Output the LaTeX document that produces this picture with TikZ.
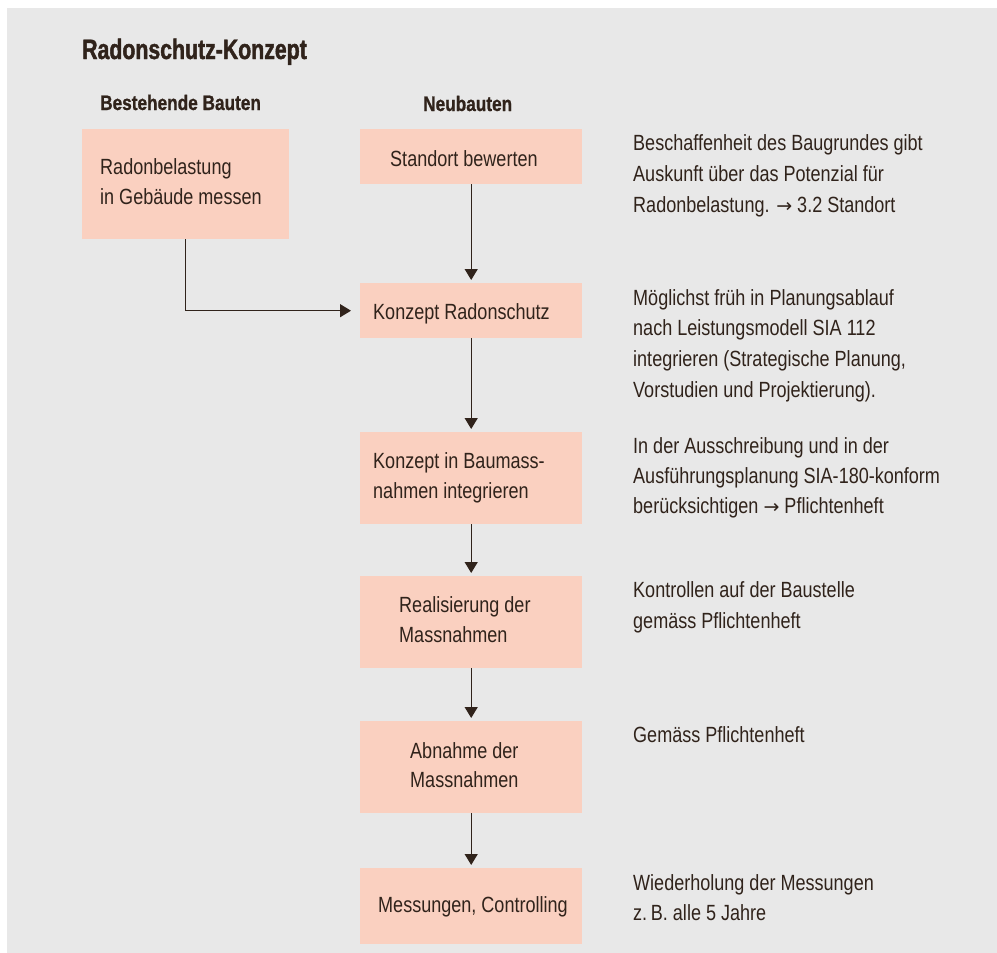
\documentclass[tikz,border=0pt]{standalone}
\usepackage{fontspec}
\setmainfont{Liberation Sans}[FakeStretch=0.82, BoldFeatures={FakeBold=1}]
\newfontfamily\titlefont{Liberation Sans}[FakeStretch=0.76, BoldFeatures={FakeBold=1.5}]
\newfontfamily\arrowfont{DejaVu Sans}
\usetikzlibrary{arrows.meta}
\definecolor{bgc}{RGB}{232,232,232}
\definecolor{boxc}{RGB}{250,208,192}
\definecolor{ink}{RGB}{48,35,27}
\newcommand{\rarr}{{\arrowfont\fontsize{19}{22}\selectfont →}}
\tikzset{
  stepbox/.style={draw=none, fill=boxc, rectangle, inner sep=0pt, anchor=north west},
  txt/.style={anchor=base west, inner sep=0pt, text=ink, font=\fontsize{22}{26}\selectfont},
  hdr/.style={anchor=base west, inner sep=0pt, text=ink, font=\fontsize{21}{25}\selectfont\bfseries},
  ttl/.style={anchor=base west, inner sep=0pt, text=ink, font=\fontsize{28}{32}\selectfont\titlefont\bfseries},
  arr/.style={draw=ink, line width=1.3pt, -{Triangle[width=13pt,length=11pt]}, shorten >=3pt},
}
\begin{document}
\begin{tikzpicture}[x=1pt,y=-1pt]
\useasboundingbox (0,0) rectangle (997,953);
\fill[white] (0,0) rectangle (997,953);
\fill[bgc] (7,8) rectangle (997,953);
% boxes
\node[stepbox, minimum width=207pt, minimum height=110pt] (b0) at (82,129) {};
\node[stepbox, minimum width=222pt, minimum height=55pt] (b1) at (360,129) {};
\node[stepbox, minimum width=222pt, minimum height=55pt] (b2) at (360,283) {};
\node[stepbox, minimum width=222pt, minimum height=92pt] (b3) at (360,432) {};
\node[stepbox, minimum width=222pt, minimum height=92pt] (b4) at (360,576) {};
\node[stepbox, minimum width=222pt, minimum height=92pt] (b5) at (360,721) {};
\node[stepbox, minimum width=222pt, minimum height=76pt] (b6) at (360,868) {};
% connectors
\draw[arr] (b1.south) -- (b2.north);
\draw[arr] (b2.south) -- (b3.north);
\draw[arr] (b3.south) -- (b4.north);
\draw[arr] (b4.south) -- (b5.north);
\draw[arr] (b5.south) -- (b6.north);
\draw[arr, shorten >=9pt] (b0.south) |- (b2.west);
% title and headers
\node[ttl] (title) at (82,59) {Radonschutz-Konzept};
\node[hdr] (h1) at (100,110) {Bestehende Bauten};
\node[hdr] (h2) at (423,111) {Neubauten};
% box texts
\node[txt] (t0a) at (100,174) {Radonbelastung};
\node[txt] (t0b) at (100,204) {in Gebäude messen};
\node[txt] (t1) at (390,166) {Standort bewerten};
\node[txt] (t2) at (373,319) {Konzept Radonschutz};
\node[txt] (t3a) at (373,468) {Konzept in Baumass-};
\node[txt] (t3b) at (373,498) {nahmen integrieren};
\node[txt] (t4a) at (399,612) {Realisierung der};
\node[txt] (t4b) at (399,642) {Massnahmen};
\node[txt] (t5a) at (410,758) {Abnahme der};
\node[txt] (t5b) at (410,787) {Massnahmen};
\node[txt] (t6) at (378,912) {Messungen, Controlling};
% right column
\node[txt] (r1a) at (633,150) {Beschaffenheit des Baugrundes gibt};
\node[txt] (r1b) at (633,181) {Auskunft über das Potenzial für};
\node[txt] (r1c) at (633,212) {Radonbelastung. \rarr{} 3.2 Standort};
\node[txt] (r2a) at (633,305) {Möglichst früh in Planungsablauf};
\node[txt] (r2b) at (633,335) {nach Leistungsmodell SIA 112};
\node[txt] (r2c) at (633,366) {integrieren (Strategische Planung,};
\node[txt] (r2d) at (633,397) {Vorstudien und Projektierung).};
\node[txt] (r3a) at (633,453) {In der Ausschreibung und in der};
\node[txt] (r3b) at (633,483) {Ausführungsplanung SIA-180-konform};
\node[txt] (r3c) at (633,513) {berücksichtigen \rarr{} Pflichtenheft};
\node[txt] (r4a) at (633,597) {Kontrollen auf der Baustelle};
\node[txt] (r4b) at (633,628) {gemäss Pflichtenheft};
\node[txt] (r5) at (633,742) {Gemäss Pflichtenheft};
\node[txt] (r6a) at (633,890) {Wiederholung der Messungen};
\node[txt] (r6b) at (633,920) {z.\,B. alle 5 Jahre};
\end{tikzpicture}
\end{document}
